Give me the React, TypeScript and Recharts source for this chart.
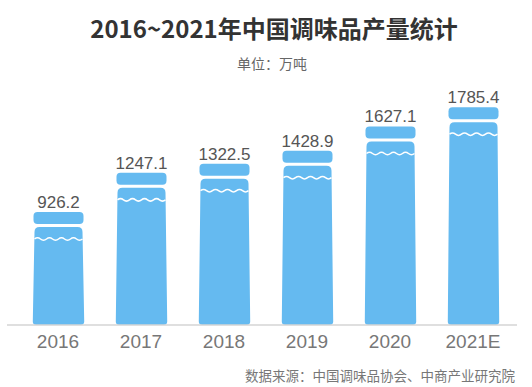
import { Bar, BarChart, LabelList, XAxis, YAxis } from "recharts";

const years = ["2016", "2017", "2018", "2019", "2020", "2021E"];
const output = [926.2, 1247.1, 1322.5, 1428.9, 1627.1, 1785.4];

const data = years.map((year, i) => ({ year, value: output[i] }));

const BLUE = "#65baf0";

function BottleBar(props: any) {
    const { x, y, width: w, height: h } = props;
    const bottom = y + h;
    const top = y + 15;
    // wave across the neck
    const waveY = y + 27;
    const x0 = x + 2;
    const x1 = x + w - 2;
    const half = (x1 - x0) / 8;
    let wave = `M ${x0} ${waveY}`;
    for (let i = 0; i < 8; i++) {
        const cx = x0 + half * (i + 0.5);
        const cy = waveY + (i % 2 === 0 ? -2.5 : 2.5);
        wave += ` Q ${cx} ${cy} ${x0 + half * (i + 1)} ${waveY}`;
    }
    const body =
        `M ${x + 2} ${top + 5} Q ${x + 2} ${top} ${x + 7} ${top} ` +
        `L ${x + w - 7} ${top} Q ${x + w - 2} ${top} ${x + w - 2} ${top + 5} ` +
        `L ${x + w - 0.3} ${bottom - 4} Q ${x + w} ${bottom} ${x + w - 4} ${bottom} ` +
        `L ${x + 4} ${bottom} Q ${x} ${bottom} ${x + 0.3} ${bottom - 4} Z`;
    return (
        <g>
            <rect x={x + 1} y={y} width={w - 2} height={12} rx={4} fill={BLUE} />
            <path d={body} fill={BLUE} />
            <path d={wave} fill="none" stroke="#fff" strokeWidth={1.5} />
        </g>
    );
}

export default function App() {
    return (
        <div style={{ position: "absolute", left: 0, top: 0, width: 532, height: 387, background: "#fff", fontFamily: "'Noto Sans CJK SC', 'Noto Sans', sans-serif" }}>
            <div style={{ position: "absolute", left: 0, top: 15, width: 548, textAlign: "center", fontSize: 24, lineHeight: "26px", fontWeight: 700, color: "#333" }}>
                2016~2021年中国调味品产量统计
            </div>
            <div style={{ position: "absolute", left: 0, top: 55, width: 544, textAlign: "center", fontSize: 14, lineHeight: "16px", color: "#666" }}>
                单位：万吨
            </div>
            <BarChart
                width={532}
                height={387}
                data={data}
                margin={{ top: 81, right: 15, left: 7, bottom: 32 }}
                barSize={52}
            >
                <XAxis
                    dataKey="year"
                    height={30}
                    padding={{ left: 9.5, right: 2.5 }}
                    axisLine={{ stroke: "#d4d4d4", strokeWidth: 1.5 }}
                    tickLine={false}
                    tickMargin={4}
                    tick={{ fill: "#777", fontSize: 19, fontFamily: "'Liberation Sans', Arial, sans-serif" }}
                />
                <YAxis hide domain={[0, 2000]} />
                <Bar dataKey="value" shape={<BottleBar />} isAnimationActive={false}>
                    <LabelList
                        dataKey="value"
                        position="top"
                        offset={4}
                        fill="#555"
                        fontSize={17}
                        fontFamily="'Liberation Sans', Arial, sans-serif"
                    />
                </Bar>
            </BarChart>
            <div style={{ position: "absolute", right: 17, top: 367, fontSize: 13.5, lineHeight: "16px", color: "#777", whiteSpace: "nowrap" }}>
                数据来源：中国调味品协会、中商产业研究院
            </div>
        </div>
    );
}
